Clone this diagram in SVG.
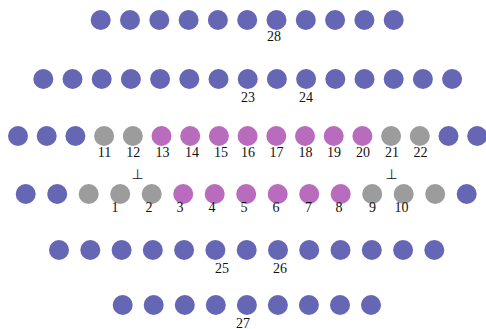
<svg xmlns="http://www.w3.org/2000/svg" width="486" height="329" viewBox="0 0 486 329">
<style>
.b{fill:#6567B5}
.p{fill:#B96CBD}
.g{fill:#9C9C9C}
text{font-family:"Liberation Serif","DejaVu Serif",serif;font-size:14px;fill:#111;text-anchor:middle}
.perp{font-family:"DejaVu Sans","Liberation Serif",sans-serif;font-size:14px}
</style>
<rect width="486" height="329" fill="#fff"/>
<g id="row1">
<circle class="b" cx="100.7" cy="20" r="10"/><circle class="b" cx="130" cy="20" r="10"/><circle class="b" cx="159.3" cy="20" r="10"/><circle class="b" cx="188.6" cy="20" r="10"/><circle class="b" cx="217.9" cy="20" r="10"/><circle class="b" cx="247.2" cy="20" r="10"/>
<g id="n28"><circle class="b" cx="276.5" cy="20" r="10"/><text x="274" y="40.5">28</text></g>
<circle class="b" cx="305.8" cy="20" r="10"/><circle class="b" cx="335.1" cy="20" r="10"/><circle class="b" cx="364.4" cy="20" r="10"/><circle class="b" cx="393.7" cy="20" r="10"/>
</g>
<g id="row2">
<circle class="b" cx="43.3" cy="79" r="10"/><circle class="b" cx="72.5" cy="79" r="10"/><circle class="b" cx="101.7" cy="79" r="10"/><circle class="b" cx="130.9" cy="79" r="10"/><circle class="b" cx="160.1" cy="79" r="10"/><circle class="b" cx="189.3" cy="79" r="10"/><circle class="b" cx="218.5" cy="79" r="10"/>
<g id="n23"><circle class="b" cx="247.7" cy="79" r="10"/><text x="248" y="101.5">23</text></g>
<circle class="b" cx="276.9" cy="79" r="10"/>
<g id="n24"><circle class="b" cx="306.1" cy="79" r="10"/><text x="306" y="101.5">24</text></g>
<circle class="b" cx="335.3" cy="79" r="10"/><circle class="b" cx="364.5" cy="79" r="10"/><circle class="b" cx="393.7" cy="79" r="10"/><circle class="b" cx="422.9" cy="79" r="10"/><circle class="b" cx="452.1" cy="79" r="10"/>
</g>
<g id="row3">
<circle class="b" cx="18" cy="136" r="10"/><circle class="b" cx="46.7" cy="136" r="10"/><circle class="b" cx="75.4" cy="136" r="10"/>
<g id="n11"><circle class="g" cx="104.1" cy="136" r="10"/><text x="104.5" y="157">11</text></g>
<g id="n12"><circle class="g" cx="132.8" cy="136" r="10"/><text x="133.3" y="157">12</text></g>
<g id="n13"><circle class="p" cx="161.5" cy="136" r="10"/><text x="162.5" y="157">13</text></g>
<g id="n14"><circle class="p" cx="190.2" cy="136" r="10"/><text x="192" y="157">14</text></g>
<g id="n15"><circle class="p" cx="218.9" cy="136" r="10"/><text x="221" y="157">15</text></g>
<g id="n16"><circle class="p" cx="247.6" cy="136" r="10"/><text x="248" y="157">16</text></g>
<g id="n17"><circle class="p" cx="276.3" cy="136" r="10"/><text x="276.5" y="157">17</text></g>
<g id="n18"><circle class="p" cx="305" cy="136" r="10"/><text x="305.5" y="157">18</text></g>
<g id="n19"><circle class="p" cx="333.7" cy="136" r="10"/><text x="334" y="157">19</text></g>
<g id="n20"><circle class="p" cx="362.4" cy="136" r="10"/><text x="363" y="157">20</text></g>
<g id="n21"><circle class="g" cx="391.1" cy="136" r="10"/><text x="392" y="157">21</text></g>
<g id="n22"><circle class="g" cx="419.8" cy="136" r="10"/><text x="420.5" y="157">22</text></g>
<circle class="b" cx="448.5" cy="136" r="10"/><circle class="b" cx="477.2" cy="136" r="10"/>
</g>
<text class="perp" x="137.5" y="179">⊥</text>
<text class="perp" x="391.5" y="179">⊥</text>
<g id="row4">
<circle class="b" cx="25.7" cy="194" r="10"/><circle class="b" cx="57.2" cy="194" r="10"/><circle class="g" cx="88.7" cy="194" r="10"/>
<g id="n1"><circle class="g" cx="120.2" cy="194" r="10"/><text x="115" y="211.5">1</text></g>
<g id="n2"><circle class="g" cx="151.7" cy="194" r="10"/><text x="149" y="211.5">2</text></g>
<g id="n3"><circle class="p" cx="183.2" cy="194" r="10"/><text x="180" y="211.5">3</text></g>
<g id="n4"><circle class="p" cx="214.7" cy="194" r="10"/><text x="212" y="211.5">4</text></g>
<g id="n5"><circle class="p" cx="246.2" cy="194" r="10"/><text x="244" y="211.5">5</text></g>
<g id="n6"><circle class="p" cx="277.7" cy="194" r="10"/><text x="276" y="211.5">6</text></g>
<g id="n7"><circle class="p" cx="309.2" cy="194" r="10"/><text x="308.5" y="211.5">7</text></g>
<g id="n8"><circle class="p" cx="340.7" cy="194" r="10"/><text x="339" y="211.5">8</text></g>
<g id="n9"><circle class="g" cx="372.2" cy="194" r="10"/><text x="372.5" y="211.5">9</text></g>
<g id="n10"><circle class="g" cx="403.7" cy="194" r="10"/><text x="401.5" y="211.5">10</text></g>
<circle class="g" cx="435.2" cy="194" r="10"/><circle class="b" cx="466.7" cy="194" r="10"/>
</g>
<g id="row5">
<circle class="b" cx="59" cy="250" r="10"/><circle class="b" cx="90.3" cy="250" r="10"/><circle class="b" cx="121.6" cy="250" r="10"/><circle class="b" cx="152.8" cy="250" r="10"/><circle class="b" cx="184.1" cy="250" r="10"/>
<g id="n25"><circle class="b" cx="215.4" cy="250" r="10"/><text x="222" y="272.5">25</text></g>
<circle class="b" cx="246.7" cy="250" r="10"/>
<g id="n26"><circle class="b" cx="278" cy="250" r="10"/><text x="280" y="272.5">26</text></g>
<circle class="b" cx="309.2" cy="250" r="10"/><circle class="b" cx="340.5" cy="250" r="10"/><circle class="b" cx="371.8" cy="250" r="10"/><circle class="b" cx="403.1" cy="250" r="10"/><circle class="b" cx="434.3" cy="250" r="10"/>
</g>
<g id="row6">
<circle class="b" cx="122.7" cy="305" r="10"/><circle class="b" cx="153.7" cy="305" r="10"/><circle class="b" cx="184.8" cy="305" r="10"/><circle class="b" cx="215.8" cy="305" r="10"/>
<g id="n27"><circle class="b" cx="246.9" cy="305" r="10"/><text x="243" y="327.5">27</text></g>
<circle class="b" cx="277.9" cy="305" r="10"/><circle class="b" cx="308.9" cy="305" r="10"/><circle class="b" cx="340" cy="305" r="10"/><circle class="b" cx="371" cy="305" r="10"/>
</g>
<g id="connectors"></g>
</svg>
